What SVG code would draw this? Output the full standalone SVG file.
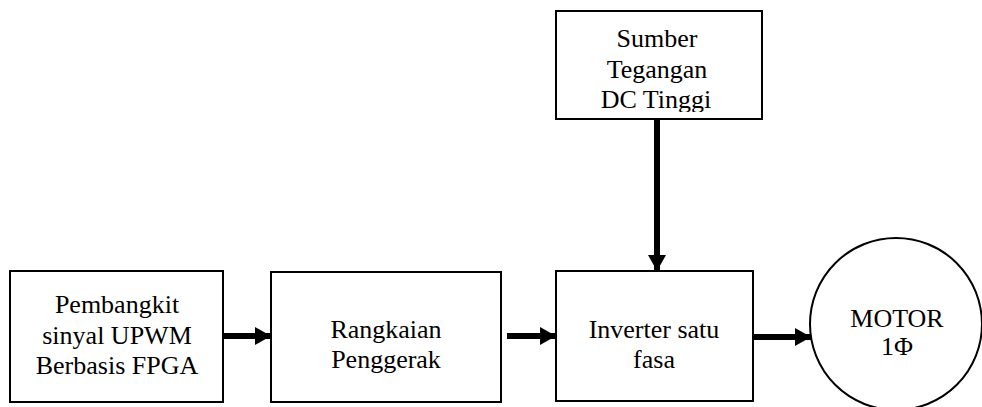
<svg xmlns="http://www.w3.org/2000/svg" width="982" height="407" viewBox="0 0 982 407">
<style>
.box{fill:#fff;stroke:#000;stroke-width:2}
.t{font-family:"Liberation Serif","Times New Roman",serif;font-size:26px;fill:#000;text-anchor:middle}
.c{stroke:#000;stroke-width:6;fill:none}
</style>
<defs>
<marker id="ah" markerUnits="userSpaceOnUse" markerWidth="16" markerHeight="18" refX="16" refY="9" orient="auto">
<path d="M0,0 L16,9 L0,18 Z" fill="#000"/>
</marker>
<clipPath id="clipSumber"><rect x="557" y="12" width="204" height="100"/></clipPath>
</defs>
<rect width="982" height="407" fill="#fff"/>
<g id="connectors">
<line class="c" x1="223" y1="336" x2="271" y2="336" marker-end="url(#ah)"/>
<line class="c" x1="507" y1="336" x2="556" y2="336" marker-end="url(#ah)"/>
<line class="c" x1="657" y1="120" x2="657" y2="271" marker-end="url(#ah)"/>
<line class="c" x1="753" y1="337" x2="811" y2="337" marker-end="url(#ah)"/>
</g>
<g id="pembangkit">
<rect class="box" x="10" y="271" width="213" height="131"/>
<text class="t" x="117" y="313">Pembangkit</text>
<text class="t" x="117" y="344">sinyal UPWM</text>
<text class="t" x="117" y="374">Berbasis FPGA</text>
</g>
<g id="rangkaian">
<rect class="box" x="271" y="272" width="230" height="130"/>
<text class="t" x="386" y="338">Rangkaian</text>
<text class="t" x="386" y="368">Penggerak</text>
</g>
<g id="sumber">
<rect class="box" x="556" y="11" width="206" height="108"/>
<g clip-path="url(#clipSumber)">
<text class="t" x="657" y="47">Sumber</text>
<text class="t" x="657" y="78">Tegangan</text>
<text class="t" x="656" y="108">DC Tinggi</text>
</g>
</g>
<g id="inverter">
<rect class="box" x="556" y="271" width="197" height="130"/>
<text class="t" x="654" y="338">Inverter satu</text>
<text class="t" x="654" y="368">fasa</text>
</g>
<g id="motor">
<ellipse class="box" cx="896" cy="324" rx="86" ry="86"/>
<text class="t" x="897" y="327">MOTOR</text>
<text class="t" x="897" y="355">1Φ</text>
</g>
</svg>
